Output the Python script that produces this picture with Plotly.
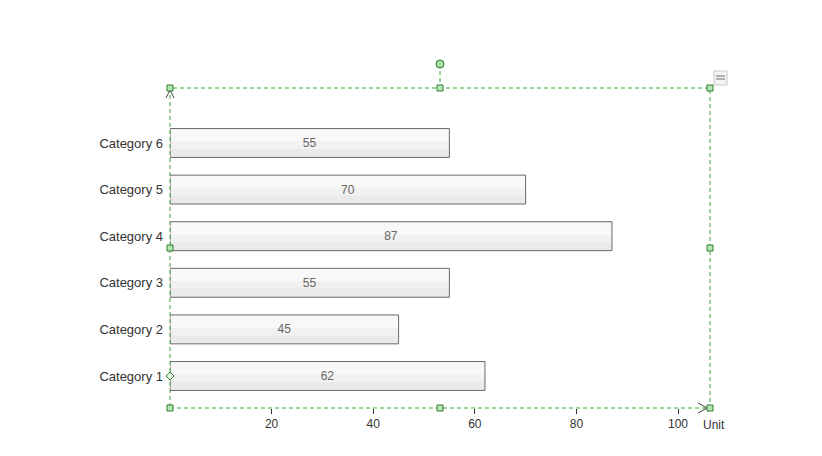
import plotly.graph_objects as go

categories = ["Category 1", "Category 2", "Category 3", "Category 4", "Category 5", "Category 6"]
values = [62, 45, 55, 87, 70, 55]
tick_vals = [20, 40, 60, 80, 100]
tick_text = ["20", "40", "60", "80", "100"]

W, H = 822, 456
OFF = 8  # page body margin
L, R, T, B = 170, 710, 88, 408


def px(x):
    return (x - L) / (R - L)


def py(y):
    return (B - y) / (B - T)


ypos = list(range(len(categories)))
fig = go.Figure()
fig.add_trace(go.Bar(
    y=ypos, x=values, orientation="h", width=0.62,
    marker=dict(color="#eaeaea", line=dict(width=0)), hoverinfo="skip",
))
fig.add_trace(go.Bar(
    y=ypos, x=values, orientation="h", width=0.44, offset=-0.13,
    marker=dict(color="#f1f1f1", line=dict(width=0)), hoverinfo="skip",
))
fig.add_trace(go.Bar(
    y=ypos, x=values, orientation="h", width=0.28, offset=0.03,
    marker=dict(color="#f8f8f8", line=dict(width=0)), hoverinfo="skip",
))
fig.add_trace(go.Bar(
    y=ypos, x=values, orientation="h", width=0.62,
    marker=dict(color="rgba(0,0,0,0)", line=dict(color="#6a6a6a", width=1)),
    text=[str(v) for v in values], textposition="inside", insidetextanchor="middle",
    textangle=0,
    textfont=dict(family="Liberation Sans, Arial", size=12, color="#666666"),
    hoverinfo="skip",
))

green = "#3aa83a"
dash = "4px,3px"
shapes = [
    dict(type="rect", xref="paper", yref="paper", x0=0, x1=1, y0=0, y1=1,
         line=dict(color=green, width=1, dash=dash)),
    dict(type="line", xref="paper", yref="paper", x0=px(440), x1=px(440), y0=py(64), y1=py(88),
         line=dict(color=green, width=1, dash=dash)),
    dict(type="path", xref="paper", yref="paper",
         path=f"M {px(698)} {py(403)} L {px(707)} {py(408)} L {px(698)} {py(413)}",
         line=dict(color="#444", width=1)),
    dict(type="path", xref="paper", yref="paper",
         path=f"M {px(166)} {py(98)} L {px(170)} {py(90)} L {px(174)} {py(98)}",
         line=dict(color="#444", width=1)),
]
for (hx, hy) in [(170, 88), (440, 88), (710, 88), (170, 248), (710, 248), (170, 408), (440, 408), (710, 408)]:
    shapes.append(dict(type="rect", xref="paper", yref="paper",
                       x0=px(hx - 3), x1=px(hx + 3), y0=py(hy + 3), y1=py(hy - 3),
                       fillcolor="#b6e6b6", line=dict(color="#2e7d2e", width=1)))
shapes.append(dict(type="circle", xref="paper", yref="paper",
                   x0=px(436), x1=px(444), y0=py(68), y1=py(60),
                   fillcolor="#a9dfa9", line=dict(color="#2e7d2e", width=1)))
shapes.append(dict(type="path", xref="paper", yref="paper",
                   path=f"M {px(166)} {py(376)} L {px(170)} {py(372)} L {px(174)} {py(376)} L {px(170)} {py(380)} Z",
                   fillcolor="#e6f6e6", line=dict(color="#2e7d2e", width=1)))
shapes.append(dict(type="rect", xref="paper", yref="paper",
                   x0=px(714), x1=px(727), y0=py(85), y1=py(71),
                   fillcolor="#f4f4f4", line=dict(color="#c8c8c8", width=1)))
for yy in (76, 79):
    shapes.append(dict(type="line", xref="paper", yref="paper",
                       x0=px(716), x1=px(725), y0=py(yy), y1=py(yy),
                       line=dict(color="#999", width=1.5)))

fig.update_layout(
    width=W, height=H,
    margin=dict(l=L - OFF, r=W + OFF - R, t=T - OFF, b=H + OFF - B),
    paper_bgcolor="white", plot_bgcolor="white",
    showlegend=False, barmode="overlay",
    shapes=shapes,
    font=dict(family="Liberation Sans, Arial", size=12, color="#333333"),
    xaxis=dict(range=[0, 106.3], tickvals=tick_vals, ticktext=tick_text,
               showgrid=False, zeroline=False, showline=False,
               ticks="outside", ticklen=5, tickcolor="#333", tickfont=dict(size=12, color="#333")),
    yaxis=dict(range=[-0.687, 6.18], tickvals=ypos, ticktext=categories,
               showgrid=False, zeroline=False, showline=False, ticks="",
               ticklabelstandoff=6, tickfont=dict(size=13, color="#333")),
    annotations=[dict(text="Unit", xref="paper", yref="paper", x=px(701), y=py(425),
                      xanchor="left", yanchor="middle", showarrow=False,
                      font=dict(size=12, color="#333"))],
)
fig.write_html("out.html")
